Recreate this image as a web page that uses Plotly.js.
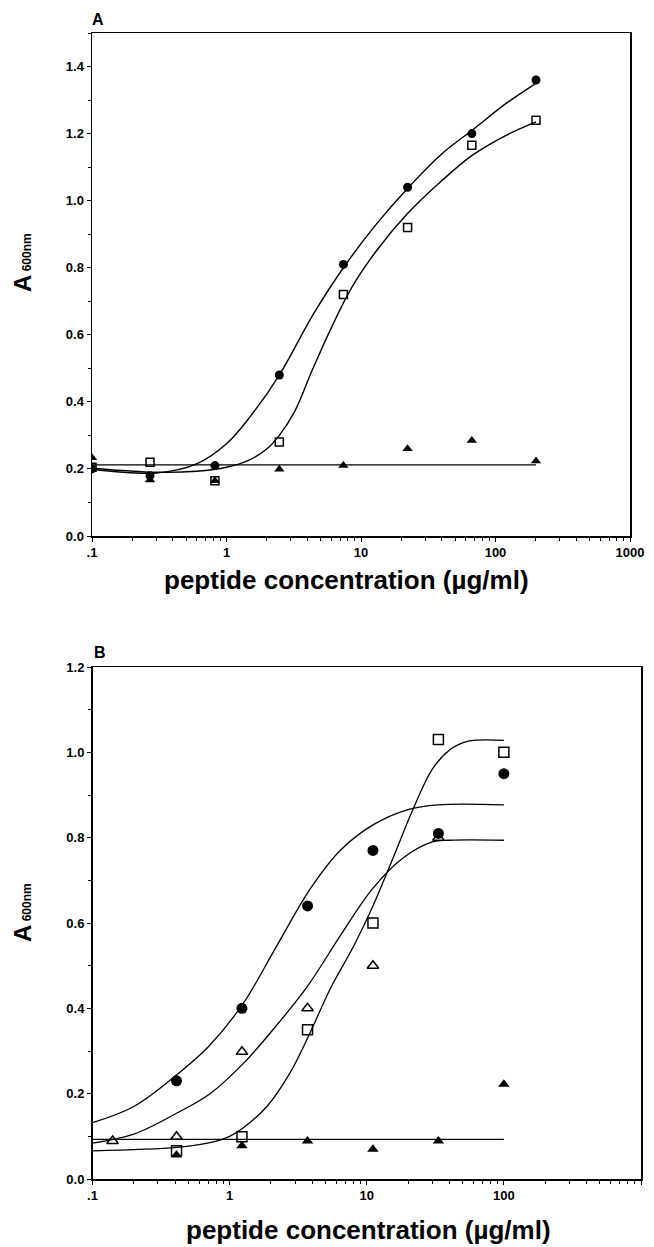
<!DOCTYPE html>
<html>
<head>
<meta charset="utf-8">
<script src="https://cdn.plot.ly/plotly-3.0.1.min.js"></script>
<style>html,body{margin:0;padding:0;background:#fff;}#chart{width:654px;height:1247px;}</style>
</head>
<body>
<div id="chart"></div>
<script>
// ---------- Panel A data ----------
const concA = [0.1, 0.27, 0.82, 2.47, 7.4, 22.2, 66.7, 200];
const circleA = [0.20, 0.18, 0.21, 0.48, 0.81, 1.04, 1.20, 1.36];
const squareA = [0.205, 0.22, 0.165, 0.28, 0.72, 0.92, 1.165, 1.24];
const triangleA = [0.233, 0.167, 0.165, 0.199, 0.21, 0.26, 0.285, 0.224];

// fitted curves
const fitCircleAx = [0.1, 0.3, 0.6, 1.0, 1.5, 2.47, 4.4, 7.4, 13, 22, 40, 67, 120, 200];
const fitCircleAy = [0.199, 0.188, 0.215, 0.275, 0.356, 0.48, 0.66, 0.80, 0.93, 1.035, 1.14, 1.21, 1.29, 1.35];
const fitSquareAx = [0.1, 0.3, 0.6, 1.0, 1.5, 2.0, 2.47, 3.2, 4.4, 6.0, 8.5, 13, 22, 40, 67, 120, 200];
const fitSquareAy = [0.202, 0.19, 0.193, 0.205, 0.228, 0.26, 0.30, 0.37, 0.50, 0.62, 0.74, 0.85, 0.96, 1.06, 1.135, 1.195, 1.235];
const fitTriangleAx = [0.1, 200];
const fitTriangleAy = [0.212, 0.212];

// ---------- Panel B data ----------
const concB = [0.41, 1.23, 3.7, 11.1, 33.3, 100];
const circleB = [0.23, 0.40, 0.64, 0.77, 0.81, 0.95];
const squareB = [0.066, 0.099, 0.35, 0.60, 1.03, 1.00];
const openTriConcB = [0.14, 0.41, 1.23, 3.7, 11.1, 33.3];
const openTriB = [0.089, 0.099, 0.298, 0.40, 0.50, 0.80];
const filledTriB = [0.056, 0.078, 0.089, 0.07, 0.089, 0.222];

const fitCircleBx = [0.1, 0.2, 0.41, 0.7, 1.26, 2.15, 3.87, 6.4, 11.1, 20, 33, 100];
const fitCircleBy = [0.132, 0.17, 0.244, 0.31, 0.412, 0.54, 0.68, 0.77, 0.83, 0.866, 0.877, 0.877];
const fitOpenTriBx = [0.1, 0.2, 0.41, 0.72, 1.26, 2.2, 3.76, 6.4, 11, 18, 30, 40, 100];
const fitOpenTriBy = [0.084, 0.105, 0.154, 0.2, 0.271, 0.36, 0.455, 0.57, 0.68, 0.75, 0.79, 0.794, 0.794];
const fitSquareBx = [0.1, 0.41, 0.72, 1.0, 1.26, 1.87, 2.77, 3.7, 5.5, 8, 11.1, 15, 22, 30, 40, 55, 100];
const fitSquareBy = [0.066, 0.074, 0.085, 0.10, 0.12, 0.17, 0.25, 0.33, 0.45, 0.545, 0.64, 0.74, 0.87, 0.96, 1.005, 1.026, 1.028];
const fitFilledTriBx = [0.1, 100];
const fitFilledTriBy = [0.093, 0.093];

// ---------- axis ticks ----------
const xTickVals = [0.1, 1, 10, 100, 1000];
const xTickText = ['.1', '1', '10', '100', '1000'];
const xMinorVals = [];
[0.1, 1, 10, 100].forEach(d => { for (let k = 2; k <= 9; k++) xMinorVals.push(d * k); });

const W = 654, H = 1247;
const FONT = 'Arial, "Liberation Sans", Helvetica, sans-serif';
const black = '#000';

function line(x, y, xa, ya, w) {
  return {x: x, y: y, xaxis: xa, yaxis: ya, type: 'scatter', mode: 'lines',
    line: {color: black, width: w, shape: 'spline', smoothing: 1}, hoverinfo: 'skip', showlegend: false};
}
function pts(x, y, xa, ya, sym, size, lw) {
  return {x: x, y: y, xaxis: xa, yaxis: ya, type: 'scatter', mode: 'markers',
    marker: {symbol: sym, size: size, color: black, line: {color: black, width: lw}}, showlegend: false};
}

const traces = [
  line(fitTriangleAx, fitTriangleAy, 'x', 'y', 1.4),
  line(fitCircleAx, fitCircleAy, 'x', 'y', 1.4),
  line(fitSquareAx, fitSquareAy, 'x', 'y', 1.4),
  pts(concA, squareA, 'x', 'y', 'square-open', 8, 1.5),
  pts(concA, circleA, 'x', 'y', 'circle', 9, 0),
  pts(concA, triangleA, 'x', 'y', 'triangle-up', 9, 0),

  line(fitFilledTriBx, fitFilledTriBy, 'x2', 'y2', 1.3),
  line(fitCircleBx, fitCircleBy, 'x2', 'y2', 1.3),
  line(fitOpenTriBx, fitOpenTriBy, 'x2', 'y2', 1.3),
  line(fitSquareBx, fitSquareBy, 'x2', 'y2', 1.3),
  pts(concB, squareB, 'x2', 'y2', 'square-open', 10, 1.5),
  pts(openTriConcB, openTriB, 'x2', 'y2', 'triangle-up-open', 10, 1.5),
  pts(concB, circleB, 'x2', 'y2', 'circle', 11, 0),
  pts(concB, filledTriB, 'x2', 'y2', 'triangle-up', 10, 0)
];

function xAxis(domain, anchor) {
  return {type: 'log', range: [-1, 3], domain: domain, anchor: anchor,
    showline: true, linecolor: black, linewidth: 1.5, mirror: true,
    showgrid: false, zeroline: false,
    ticks: 'outside', ticklen: 4, tickwidth: 1, tickcolor: black,
    tickmode: 'array', tickvals: xTickVals, ticktext: xTickText,
    tickfont: {family: FONT, size: 13, color: black, weight: 'bold'},
    minor: {tickmode: 'array', tickvals: xMinorVals, ticks: 'outside', ticklen: 3, tickwidth: 1, tickcolor: black, showgrid: false}};
}
function yAxis(domain, anchor, range) {
  return {range: range, domain: domain, anchor: anchor,
    showline: true, linecolor: black, linewidth: 1.5, mirror: true,
    showgrid: false, zeroline: false,
    ticks: 'outside', ticklen: 4, tickwidth: 1, tickcolor: black,
    tick0: 0, dtick: 0.2, tickformat: '.1f',
    tickfont: {family: FONT, size: 13, color: black, weight: 'bold'},
    minor: {tick0: 0, dtick: 0.1, ticks: 'outside', ticklen: 3, tickwidth: 1, tickcolor: black, showgrid: false}};
}

const ytitle = 'A<span style="font-size:12px"> 600nm</span>';
const xtitle = 'peptide concentration (µg/ml)';

const layout = {
  width: W, height: H,
  margin: {l: 0, r: 0, t: 0, b: 0},
  paper_bgcolor: '#fff', plot_bgcolor: '#fff',
  font: {family: FONT, color: black},
  xaxis: xAxis([92 / W, 630 / W], 'y'),
  yaxis: yAxis([1 - 536 / H, 1 - 33 / H], 'x', [0, 1.5]),
  xaxis2: xAxis([92.5 / W, 641 / W], 'y2'),
  yaxis2: yAxis([1 - 1179 / H, 1 - 667 / H], 'x2', [0, 1.2]),
  annotations: [
    {text: 'A', xref: 'paper', yref: 'paper', x: 98 / W, y: 1 - 20 / H, xanchor: 'center', yanchor: 'middle', showarrow: false,
      font: {family: FONT, size: 16, color: black, weight: 'bold'}},
    {text: 'B', xref: 'paper', yref: 'paper', x: 100 / W, y: 1 - 652 / H, xanchor: 'center', yanchor: 'middle', showarrow: false,
      font: {family: FONT, size: 16, color: black, weight: 'bold'}},
    {text: xtitle, xref: 'paper', yref: 'paper', x: 346 / W, y: 1 - 580 / H, xanchor: 'center', yanchor: 'middle', showarrow: false,
      font: {family: FONT, size: 26, color: black, weight: 'bold'}},
    {text: xtitle, xref: 'paper', yref: 'paper', x: 369 / W, y: 1 - 1230 / H, xanchor: 'center', yanchor: 'middle', showarrow: false,
      font: {family: FONT, size: 26, color: black, weight: 'bold'}},
    {text: ytitle, xref: 'paper', yref: 'paper', x: 22 / W, y: 1 - 262 / H, xanchor: 'center', yanchor: 'middle', showarrow: false, textangle: -90,
      font: {family: FONT, size: 24, color: black, weight: 'bold'}},
    {text: ytitle, xref: 'paper', yref: 'paper', x: 22 / W, y: 1 - 912 / H, xanchor: 'center', yanchor: 'middle', showarrow: false, textangle: -90,
      font: {family: FONT, size: 24, color: black, weight: 'bold'}}
  ]
};

Plotly.newPlot('chart', traces, layout, {staticPlot: true, displayModeBar: false});
</script>
</body>
</html>
